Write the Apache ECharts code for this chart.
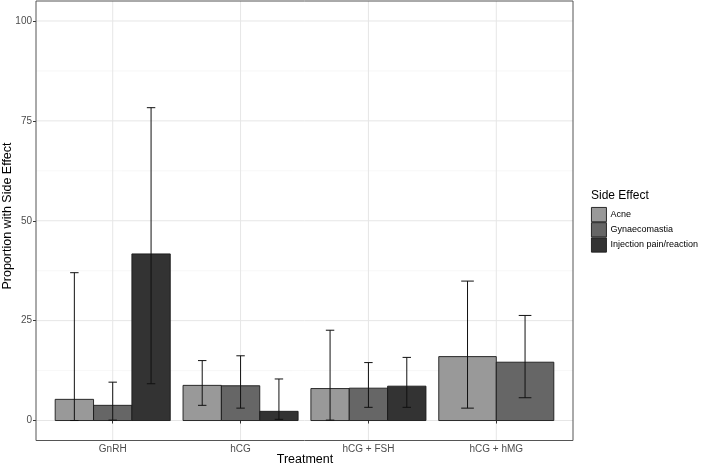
<!DOCTYPE html>
<html>
<head>
<meta charset="utf-8">
<script src="https://cdn.jsdelivr.net/npm/echarts@6/dist/echarts.min.js"></script>
<style>html,body{margin:0;padding:0;background:#fff}#c{width:702px;height:467px}</style>
</head>
<body>
<div id="c"></div>
<script>
const categories = ['GnRH', 'hCG', 'hCG + FSH', 'hCG + hMG'];
const effects = ['Acne', 'Gynaecomastia', 'Injection pain/reaction'];
const acne   = [5.3, 8.8, 8.0, 16.0];
const acneLo = [0.0, 3.8, 0.1, 3.1];
const acneHi = [37.0, 15.0, 22.6, 34.9];
const gyn    = [3.8, 8.7, 8.1, 14.6];
const gynLo  = [0.1, 3.1, 3.3, 5.7];
const gynHi  = [9.6, 16.2, 14.5, 26.3];
const inj    = [41.7, 2.3, 8.6, null];
const injLo  = [9.2, 0.3, 3.3, null];
const injHi  = [78.3, 10.4, 15.8, null];
const yTicks = [0, 25, 50, 75, 100];

const values = [acne, gyn, inj];
const lows = [acneLo, gynLo, injLo];
const highs = [acneHi, gynHi, injHi];
const colors = ['#999999', '#666666', '#333333'];
const FONT = 'Liberation Sans, Arial, sans-serif';

// dodge slots: count present groups per category
const nSlots = categories.map((c, i) => values.filter(v => v[i] != null).length);
const slotOf = values.map((arr, s) => arr.map((v, i) => {
  let k = 0; for (let j = 0; j < s; j++) if (values[j][i] != null) k++; return k;
}));

const xPos = categories.map((c, i) => i + 1);
const minorY = yTicks.slice(1).map((t, i) => (t + yTicks[i]) / 2);

function renderBar(params, api) {
  const x = api.value(0), v = api.value(1), lo = api.value(2), hi = api.value(3);
  const slot = api.value(4), n = api.value(5);
  const unit = api.size([1, 0])[0];
  const groupW = 0.9 * unit, bw = groupW / n;
  const cx0 = api.coord([x, 0]);
  const left = cx0[0] - groupW / 2 + slot * bw;
  const base = cx0[1];
  const top = api.coord([x, v])[1];
  const yLo = api.coord([x, lo])[1], yHi = api.coord([x, hi])[1];
  const cx = left + bw / 2, cap = bw * 0.11;
  const ls = {stroke: '#111', lineWidth: 1};
  return {
    type: 'group',
    children: [
      {type: 'rect', shape: {x: left, y: top, width: bw, height: base - top},
       style: {fill: api.visual('color'), stroke: '#1a1a1a', lineWidth: 0.9}},
      {type: 'line', shape: {x1: cx, y1: yLo, x2: cx, y2: yHi}, style: ls},
      {type: 'line', shape: {x1: cx - cap, y1: yHi, x2: cx + cap, y2: yHi}, style: ls},
      {type: 'line', shape: {x1: cx - cap, y1: yLo, x2: cx + cap, y2: yLo}, style: ls}
    ]
  };
}

// gridlines: [orientation(0=horizontal,1=vertical), value, major(1)/minor(0)]
const gridData = [
  ...minorY.map(v => [0, v, 0]),
  ...yTicks.map(v => [0, v, 1]),
  ...xPos.map(v => [1, v, 1])
];
function renderGrid(params, api) {
  const cs = params.coordSys;
  const o = api.value(0), v = api.value(1), major = api.value(2);
  const style = {stroke: major ? '#E6E6E6' : '#F3F3F3', lineWidth: major ? 1 : 0.7};
  if (o === 0) {
    const y = api.coord([1, v])[1];
    return {type: 'line', shape: {x1: cs.x, y1: y, x2: cs.x + cs.width, y2: y}, style};
  }
  const x = api.coord([v, 0])[0];
  return {type: 'line', shape: {x1: x, y1: cs.y, x2: x, y2: cs.y + cs.height}, style};
}

const series = [{
  type: 'custom', silent: true, z: 0, renderItem: renderGrid,
  encode: {x: -1, y: -1}, data: gridData, clip: true
}];
effects.forEach((name, s) => {
  series.push({
    name: name, type: 'custom', renderItem: renderBar, z: 2,
    itemStyle: {color: colors[s], borderColor: '#1a1a1a', borderWidth: 0.9},
    encode: {x: 0, y: [1, 2, 3]},
    data: categories.map((c, i) => values[s][i] == null ? null :
      [xPos[i], values[s][i], lows[s][i], highs[s][i], slotOf[s][i], nSlots[i]]).filter(d => d)
  });
});

const chart = echarts.init(document.getElementById('c'), null, {renderer: 'canvas'});
chart.setOption({
  animation: false,
  backgroundColor: '#fff',
  grid: {left: 36, right: 129, top: 1, bottom: 26.5, show: true, borderColor: '#555', borderWidth: 1, backgroundColor: 'transparent', z: 5},
  xAxis: {
    type: 'value', min: 0.4, max: 4.6,
    axisLine: {show: false},
    splitLine: {show: false},
    axisTick: {show: true, length: 3, lineStyle: {color: '#333'}, customValues: xPos},
    axisLabel: {color: '#4d4d4d', fontFamily: FONT, fontSize: 10, margin: 4,
      customValues: xPos, formatter: v => categories[Math.round(v) - 1]}
  },
  yAxis: {
    type: 'value', min: -5, max: 105,
    axisLine: {show: false},
    splitLine: {show: false},
    axisTick: {show: true, length: 3, lineStyle: {color: '#333'}, customValues: yTicks},
    axisLabel: {color: '#4d4d4d', fontFamily: FONT, fontSize: 10, margin: 4, customValues: yTicks}
  },
  legend: {
    orient: 'vertical', left: 591, top: 207, padding: 0, itemWidth: 15, itemHeight: 14.3, itemGap: 0,
    icon: 'rect', data: effects,
    textStyle: {fontFamily: FONT, fontSize: 9, color: '#000', padding: [0, 0, 0, -1]},
    itemStyle: {borderColor: '#1a1a1a', borderWidth: 0.9}
  },
  graphic: [
    {type: 'text', x: 591, y: 196, style: {text: 'Side Effect', font: '12px ' + FONT, fill: '#000', verticalAlign: 'middle'}},
    {type: 'text', x: 305, y: 460, style: {text: 'Treatment', font: '12.5px ' + FONT, fill: '#000', align: 'center', verticalAlign: 'middle'}},
    {type: 'text', x: 7.5, y: 216, rotation: Math.PI / 2, style: {text: 'Proportion with Side Effect', font: '12.5px ' + FONT, fill: '#000', align: 'center', verticalAlign: 'middle'}}
  ],
  series: series
});
</script>
</body>
</html>
